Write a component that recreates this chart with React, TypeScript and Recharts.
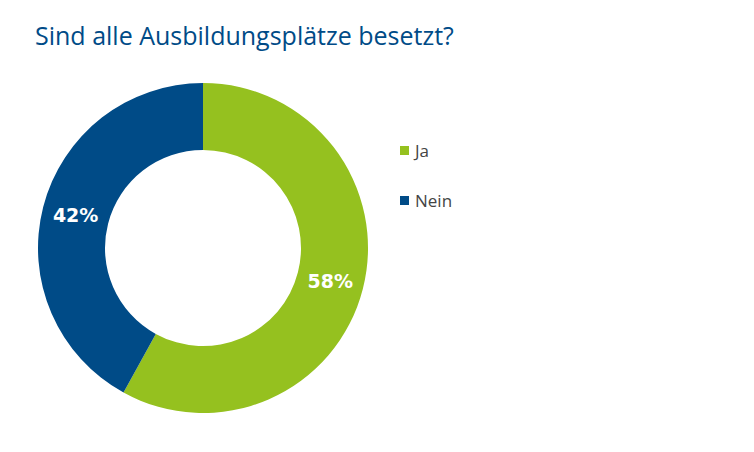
import { PieChart, Pie, Cell } from 'recharts'

const categories = ['Ja', 'Nein']
const values = [58, 42]
const colors = ['#95c11f', '#004b87']

const data = categories.map((name, i) => ({ name, value: values[i] }))
const RAD = Math.PI / 180

function renderLabel(props: any) {
  const { cx, cy, midAngle, innerRadius, outerRadius, value } = props
  const r = (innerRadius + outerRadius) / 2
  const x = cx + r * Math.cos(-midAngle * RAD)
  const y = cy + r * Math.sin(-midAngle * RAD)
  return (
    <text x={x} y={y} fill="#fff" textAnchor="middle" dominantBaseline="central"
      fontSize={19} fontWeight="bold" fontFamily="'DejaVu Sans', sans-serif">
      {value}%
    </text>
  )
}

export default function App() {
  return (
    <div style={{ position: 'absolute', left: 0, top: 0, width: 754, height: 452, background: '#fff', fontFamily: "'Open Sans', sans-serif" }}>
      <div style={{ position: 'absolute', left: 35, top: 18, fontSize: 25, color: '#004b87', whiteSpace: 'nowrap' }}>
        Sind alle Ausbildungsplätze besetzt?
      </div>
      <PieChart width={754} height={452} margin={{ top: 0, right: 0, bottom: 0, left: 0 }}>
        <Pie data={data} dataKey="value" nameKey="name" cx={203} cy={248}
          innerRadius={98} outerRadius={165} startAngle={90} endAngle={-270}
          stroke="none" label={renderLabel} labelLine={false} isAnimationActive={false}>
          {data.map((_, i) => <Cell key={i} fill={colors[i]} />)}
        </Pie>
      </PieChart>
      {categories.map((c, i) => (
        <div key={c} style={{ position: 'absolute', left: 400, top: 139 + i * 50, display: 'flex', alignItems: 'center', fontSize: 17, color: '#444' }}>
          <span style={{ width: 9, height: 9, background: colors[i], marginRight: 6, display: 'inline-block' }} />
          {c}
        </div>
      ))}
    </div>
  )
}
